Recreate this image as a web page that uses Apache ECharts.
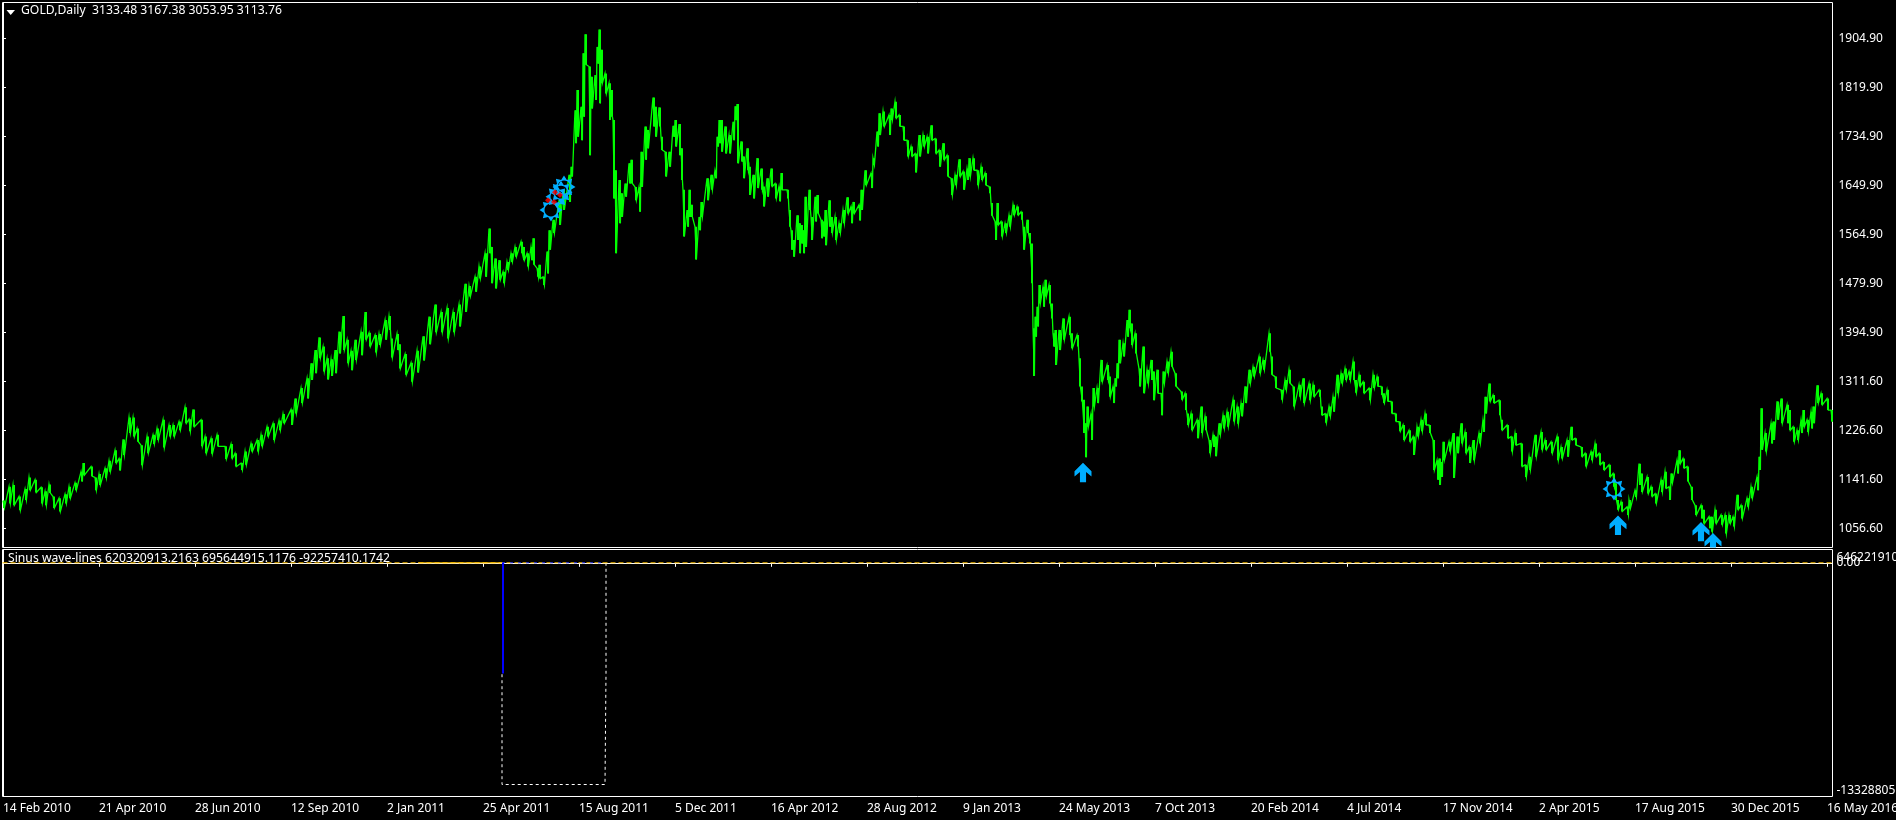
<!DOCTYPE html>
<html>
<head>
<meta charset="utf-8">
<style>html,body{margin:0;padding:0;background:#000;overflow:hidden}#c{width:1896px;height:820px}</style>
<script src="https://cdn.jsdelivr.net/npm/echarts@6/dist/echarts.min.js"></script>
</head>
<body>
<div id="c"></div>
<script>
const dateLabels = ['14 Feb 2010','21 Apr 2010','28 Jun 2010','12 Sep 2010','2 Jan 2011','25 Apr 2011','15 Aug 2011','5 Dec 2011','16 Apr 2012','28 Aug 2012','9 Jan 2013','24 May 2013','7 Oct 2013','20 Feb 2014','4 Jul 2014','17 Nov 2014','2 Apr 2015','17 Aug 2015','30 Dec 2015','16 May 2016'];
const dateTicks = [0,48,96,144,192,240,288,336,384,432,480,528,576,624,672,720,768,816,864,912];
const priceTicks = [1904.9,1819.9,1734.9,1649.9,1564.9,1479.9,1394.9,1309.9,1224.9,1139.9,1054.9];
const priceLabels = ['1904.90','1819.90','1734.90','1649.90','1564.90','1479.90','1394.90','1311.60','1226.60','1141.60','1056.60'];
const subTicks = [-13328805000,646221910];
const subLabels = ['-13328805','646221910'];
const zeroTick = [0];
const zeroLabel = '0.00';

const barIndex = [
0,3,5,8,11,13,16,19,21,23,
25,28,31,33,36,39,40,44,46,48,
51,53,56,58,60,63,65,67,69,72,
75,77,80,83,85,88,91,93,95,99,
101,104,107,111,114,116,119,121,124,127,
129,132,135,138,140,144,146,149,152,154,
156,158,160,162,164,166,168,170,172,174,
176,179,181,183,186,188,191,193,194,197,
198,201,204,207,210,213,216,219,222,225,
228,231,233,236,238,241,243,244,246,248,
250,252,254,256,259,260,262,264,265,267,
268,270,272,273,275,278,280,283,284,286,
287,289,290,291,293,294,296,297,298,299,
301,303,304,305,306,308,309,311,313,314,
316,318,319,321,322,325,326,328,329,331,
333,335,336,338,339,340,342,343,344,346,
348,349,352,354,356,357,358,359,361,363,
365,366,367,369,370,372,373,375,377,379,
380,382,384,386,388,389,392,393,394,395,
397,398,399,400,401,403,404,406,407,409,
410,411,413,414,416,418,420,422,424,425,
428,429,431,434,435,437,438,440,443,444,
446,448,450,452,454,456,458,460,462,464,
466,468,470,472,474,476,478,480,482,483,
485,487,489,491,493,494,496,497,499,501,
503,505,507,509,510,512,513,514,515,516,
517,518,520,521,523,524,525,526,528,530,
533,534,537,538,539,540,541,542,544,545,
547,549,552,553,555,556,557,558,560,562,
563,564,566,568,570,572,574,575,577,579,
580,582,584,586,589,591,592,594,597,599,
601,603,605,606,608,610,612,615,617,619,
621,623,625,628,630,633,634,636,639,641,
643,645,648,650,653,655,658,659,661,663,
665,667,669,671,673,675,676,678,680,683,
685,687,689,690,692,694,696,698,700,703,
705,707,709,711,713,715,717,718,719,720,
723,725,727,729,731,733,735,738,740,741,
743,745,748,749,752,754,756,759,761,763,
766,769,771,774,777,779,782,784,786,789,
791,794,796,798,800,803,805,806,807,809,
812,813,816,818,819,822,824,826,829,831,
833,834,837,838,840,842,844,846,849,850,
853,854,856,859,861,863,865,867,869,872,
874,877,878,879,881,884,885,887,889,892,
893,895,897,899,900,902,904,905,907,909,
912,914];
const highs = [
1103,1127,1130,1110,1123,1143,1139,1126,1119,1131,
1110,1107,1114,1127,1134,1153,1168,1162,1143,1149,
1159,1172,1190,1176,1209,1247,1247,1228,1199,1214,
1217,1228,1243,1234,1234,1240,1265,1244,1261,1243,
1214,1211,1217,1197,1201,1185,1168,1188,1202,1208,
1217,1231,1237,1242,1253,1261,1280,1298,1315,1341,
1364,1386,1370,1350,1348,1364,1396,1423,1382,1363,
1382,1396,1430,1394,1390,1392,1416,1423,1384,1392,
1374,1357,1342,1363,1388,1422,1443,1430,1437,1430,
1443,1479,1475,1491,1509,1532,1575,1543,1523,1520,
1500,1517,1532,1543,1552,1543,1532,1543,1558,1506,
1512,1491,1535,1572,1590,1624,1642,1668,1682,1780,
1815,1786,1879,1912,1856,1838,1841,1890,1920,1885,
1844,1827,1815,1763,1676,1659,1636,1653,1688,1694,
1647,1647,1708,1752,1746,1802,1786,1785,1734,1708,
1708,1753,1763,1756,1714,1642,1607,1642,1616,1578,
1595,1621,1662,1668,1676,1734,1763,1763,1752,1737,
1760,1787,1791,1726,1700,1714,1682,1668,1697,1679,
1648,1662,1679,1653,1648,1671,1642,1607,1572,1555,
1598,1584,1581,1572,1630,1642,1595,1630,1633,1590,
1587,1607,1624,1595,1595,1584,1607,1629,1613,1621,
1616,1642,1676,1671,1697,1743,1775,1778,1772,1783,
1795,1772,1752,1728,1717,1705,1737,1737,1734,1754,
1731,1711,1723,1702,1662,1668,1695,1674,1679,1697,
1697,1676,1682,1671,1648,1619,1587,1619,1587,1584,
1598,1616,1613,1604,1578,1590,1567,1549,1402,1422,
1439,1477,1474,1486,1477,1445,1393,1399,1399,1419,
1422,1393,1390,1350,1301,1278,1237,1266,1254,1298,
1298,1347,1338,1318,1301,1315,1341,1382,1376,1416,
1434,1410,1393,1332,1370,1330,1347,1327,1330,1289,
1327,1344,1361,1324,1292,1289,1254,1254,1243,1266,
1249,1208,1217,1214,1237,1251,1257,1278,1266,1272,
1301,1330,1335,1353,1347,1393,1353,1318,1295,1312,
1330,1301,1304,1315,1306,1304,1295,1266,1254,1266,
1283,1321,1324,1332,1327,1344,1312,1321,1309,1298,
1321,1318,1301,1289,1295,1275,1254,1240,1234,1225,
1214,1231,1243,1254,1234,1208,1173,1176,1170,1205,
1205,1220,1214,1237,1222,1196,1208,1220,1243,1283,
1306,1286,1277,1243,1234,1214,1220,1202,1165,1179,
1217,1222,1208,1205,1214,1196,1208,1231,1211,1196,
1185,1188,1202,1185,1170,1165,1150,1133,1104,1101,
1092,1104,1121,1167,1150,1144,1127,1115,1139,1153,
1127,1150,1173,1190,1176,1162,1127,1095,1095,1087,
1075,1075,1087,1078,1078,1078,1075,1113,1095,1107,
1127,1144,1179,1263,1220,1237,1240,1275,1280,1269,
1260,1231,1225,1243,1260,1243,1257,1266,1303,1289,
1280,1260];
const lows = [
1090,1098,1095,1086,1104,1121,1117,1098,1095,1116,
1090,1084,1098,1107,1121,1136,1147,1145,1121,1130,
1142,1153,1168,1155,1182,1220,1214,1205,1164,1185,
1201,1208,1195,1214,1214,1225,1237,1223,1231,1197,
1185,1184,1197,1175,1176,1162,1156,1165,1188,1188,
1197,1214,1208,1225,1237,1234,1254,1272,1280,1312,
1324,1350,1327,1313,1319,1324,1358,1364,1341,1329,
1347,1355,1382,1370,1360,1373,1382,1399,1351,1364,
1332,1321,1309,1325,1346,1374,1395,1395,1384,1395,
1405,1430,1457,1465,1488,1491,1532,1480,1471,1486,
1480,1503,1517,1526,1532,1520,1509,1520,1512,1491,
1488,1477,1497,1538,1567,1581,1607,1621,1665,1723,
1734,1728,1769,1859,1702,1783,1798,1861,1792,1827,
1809,1763,1769,1627,1532,1584,1595,1630,1653,1653,
1624,1604,1647,1694,1714,1752,1734,1752,1711,1665,
1682,1734,1717,1702,1659,1561,1578,1595,1595,1521,
1572,1595,1624,1642,1662,1717,1723,1708,1705,1705,
1728,1763,1688,1691,1662,1676,1633,1627,1645,1642,
1613,1630,1648,1627,1622,1642,1627,1578,1538,1526,
1555,1532,1549,1532,1543,1607,1555,1587,1601,1558,
1561,1546,1578,1567,1555,1567,1584,1601,1584,1601,
1589,1607,1650,1645,1685,1717,1737,1752,1737,1763,
1766,1752,1728,1700,1700,1672,1700,1717,1705,1728,
1705,1682,1694,1665,1633,1650,1665,1642,1659,1665,
1676,1650,1659,1650,1636,1597,1555,1581,1561,1567,
1578,1598,1598,1590,1538,1567,1549,1480,1319,1387,
1405,1445,1439,1457,1445,1419,1370,1338,1364,1382,
1390,1367,1370,1301,1275,1220,1178,1231,1208,1266,
1272,1309,1312,1283,1272,1301,1315,1341,1353,1387,
1402,1373,1358,1301,1289,1306,1312,1277,1289,1251,
1306,1324,1335,1301,1278,1260,1234,1225,1211,1220,
1225,1185,1196,1180,1217,1228,1231,1240,1236,1249,
1272,1306,1318,1324,1330,1361,1321,1298,1278,1295,
1306,1266,1283,1272,1277,1283,1283,1251,1238,1249,
1257,1289,1306,1312,1312,1312,1290,1301,1289,1277,
1298,1301,1286,1272,1275,1254,1240,1223,1208,1205,
1182,1214,1223,1234,1220,1156,1139,1130,1144,1173,
1188,1142,1185,1202,1185,1168,1173,1202,1222,1254,
1275,1272,1251,1225,1211,1188,1199,1162,1144,1156,
1179,1191,1191,1185,1173,1176,1179,1208,1199,1179,
1162,1173,1179,1165,1156,1144,1127,1104,1087,1084,
1078,1089,1109,1130,1118,1115,1110,1098,1118,1124,
1104,1133,1150,1167,1159,1136,1104,1078,1072,1063,
1055,1049,1063,1061,1046,1063,1058,1087,1072,1092,
1107,1121,1156,1191,1188,1202,1208,1243,1237,1237,
1225,1205,1208,1220,1231,1222,1228,1237,1272,1269,
1260,1240];

const sunBars = [274,277,279,280.5,805.5];
const sunPrices = [1607,1630,1638,1647,1123];
const arrowBars = [540,807.5,849,855];
const arrowPrices = [1151.6,1060,1049,1030];
const redBars = [272.5,275.5,278.5,276];
const redPrices = [1624,1621,1633,1638];

const solidGoldBars = [207.5,250];
const goldBars = [-0.25,914.75];
const blueBar = 250;
const blueLow = -6310000000;
const boxRightBar = 301.5;
const boxLeftBar = 249.5;
const boxLow = -12645000000;

const FONT = '"Noto Sans"';
const WHITE = '#ffffff';
const ICON = '#00aeff';

function sunPath(){
  const R=11, r=7.2, h=6.2, n=8; let d='';
  for(let i=0;i<n*2;i++){
    const a=-Math.PI/2+i*Math.PI/n, q=i%2?r:R;
    d+=(i?'L':'M')+(12+q*Math.cos(a)).toFixed(2)+' '+(12+q*Math.sin(a)).toFixed(2)+' ';
  }
  d+='Z M'+(12)+' '+(12-h)+' ';
  for(let i=1;i<=24;i++){
    const a=-Math.PI/2-i*Math.PI/12;
    d+='L'+(12+h*Math.cos(a)).toFixed(2)+' '+(12+h*Math.sin(a)).toFixed(2)+' ';
  }
  return d+'Z';
}
const arrowPath='M25 0 L50 25 L50 40 L34 27 L34 57 L16 57 L16 27 L0 40 L0 25 Z';

function iconSeries(name,xs,ys,pathData,w,h,color){
  return {name,type:'custom',xAxisIndex:0,yAxisIndex:0,clip:true,z:5,silent:true,
    data:xs.map((x,i)=>[x,ys[i]]),
    renderItem(p,api){
      const c=api.coord([api.value(0),api.value(1)]);
      return {type:'path',shape:{pathData,x:c[0]-w/2,y:c[1]-h/2,width:w,height:h},style:{fill:color}};
    }};
}

const zigzag=[];
barIndex.forEach((b,i)=>{zigzag.push([b,highs[i]]);zigzag.push([b+0.7,lows[i]]);});

const xBase={type:'value',min:-0.25,max:914.75,splitLine:{show:false}};
const chart=echarts.init(document.getElementById('c'),null,{renderer:'canvas'});
chart.setOption({
  animation:false,backgroundColor:'#000',
  textStyle:{fontFamily:FONT},
  title:[
    {text:'GOLD,Daily  3133.48 3167.38 3053.95 3113.76',left:21,top:5,padding:0,textStyle:{color:WHITE,fontFamily:FONT,fontSize:12.2,fontWeight:'normal'}},
    {text:'Sinus wave-lines 620320913.2163 695644915.1176 -92257410.1742',left:8,top:553,padding:0,textStyle:{color:WHITE,fontFamily:FONT,fontSize:12.2,fontWeight:'normal'}}
  ],
  graphic:[{type:'polygon',shape:{points:[[6.5,10],[15,10],[10.7,15]]},style:{fill:WHITE},z:10,silent:true}],
  grid:[
    {left:2.5,top:2.5,width:1830,height:545,show:true,borderColor:WHITE,borderWidth:1,backgroundColor:'#000',outerBoundsMode:'none'},
    {left:2.5,top:549.5,width:1830,height:247,show:true,borderColor:WHITE,borderWidth:1,backgroundColor:'#000',outerBoundsMode:'none'}
  ],
  xAxis:[
    Object.assign({},xBase,{gridIndex:0,axisLine:{show:false},axisTick:{show:false},axisLabel:{show:false}}),
    Object.assign({},xBase,{gridIndex:1,position:'bottom',
      axisLine:{show:true,lineStyle:{color:WHITE}},
      axisTick:{show:true,length:4,lineStyle:{color:WHITE},customValues:dateTicks},
      axisLabel:{show:true,color:WHITE,fontFamily:FONT,fontSize:12,margin:6,align:'left',hideOverlap:false,showMinLabel:true,showMaxLabel:true,
        customValues:dateTicks,formatter:v=>dateLabels[dateTicks.indexOf(v)]}})
  ],
  yAxis:[
    {type:'value',gridIndex:0,position:'right',min:1021.5,max:1967,scale:true,splitLine:{show:false},
      axisLine:{show:true,lineStyle:{color:WHITE}},
      axisTick:{show:true,length:3,lineStyle:{color:WHITE},customValues:priceTicks},
      axisLabel:{color:WHITE,fontFamily:FONT,fontSize:12,margin:6,hideOverlap:false,customValues:priceTicks,formatter:v=>priceLabels[priceTicks.indexOf(v)]}},
    {type:'value',gridIndex:1,position:'right',min:-13328805000,max:758600000,splitLine:{show:false},
      axisLine:{show:true,lineStyle:{color:WHITE}},
      axisTick:{show:false},
      axisLabel:{color:WHITE,fontFamily:FONT,fontSize:12,margin:4,hideOverlap:false,showMinLabel:true,showMaxLabel:true,
        verticalAlignMaxLabel:'top',verticalAlignMinLabel:'bottom',
        customValues:subTicks,formatter:v=>subLabels[subTicks.indexOf(v)]}},
    {type:'value',gridIndex:1,position:'right',min:-13328805000,max:758600000,splitLine:{show:false},
      axisLine:{show:false},axisTick:{show:false},
      axisLabel:{color:WHITE,fontFamily:FONT,fontSize:12,margin:4,hideOverlap:false,showMinLabel:true,showMaxLabel:true,
        customValues:zeroTick,formatter:()=>zeroLabel}}
  ],
  series:[
    {name:'GOLD',type:'line',xAxisIndex:0,yAxisIndex:0,data:zigzag,symbol:'none',sampling:false,silent:true,
      lineStyle:{color:'#00ff00',width:1.3,join:'miter'},z:3},
    {name:'GOLD range',type:'custom',xAxisIndex:0,yAxisIndex:0,clip:true,z:3,silent:true,
      data:barIndex.map((b,i)=>[b,highs[i],lows[i]]),
      renderItem(p,api){
        const t=api.coord([api.value(0),api.value(1)]), b=api.coord([api.value(0),api.value(2)]);
        return {type:'rect',shape:{x:t[0],y:t[1],width:2,height:b[1]-t[1]},style:{fill:'#00ff00'}};
      }},
    {name:'Red marks',type:'scatter',xAxisIndex:0,yAxisIndex:0,symbol:'diamond',symbolSize:6,silent:true,z:6,
      itemStyle:{color:'#ff0000'},data:redBars.map((x,i)=>[x,redPrices[i]])},
    iconSeries('Sun',sunBars,sunPrices,sunPath(),23,23,ICON),
    iconSeries('Arrow',arrowBars,arrowPrices,arrowPath,17,19.5,ICON),
    {name:'Zero',type:'line',xAxisIndex:1,yAxisIndex:1,symbol:'none',silent:true,z:3,
      lineStyle:{color:'#ffc000',width:1,type:[5,3]},data:goldBars.map(x=>[x,0])},
    {name:'Zero solid',type:'line',xAxisIndex:1,yAxisIndex:1,symbol:'none',silent:true,z:3,
      lineStyle:{color:'#ffc000',width:1},data:solidGoldBars.map(x=>[x,0])},
    {name:'Box',type:'line',xAxisIndex:1,yAxisIndex:1,symbol:'none',silent:true,z:2,
      lineStyle:{color:WHITE,width:1,type:[3,3]},
      data:[[boxRightBar,0],[boxRightBar,blueLow],[boxRightBar-0.5,blueLow],[boxRightBar-0.5,boxLow],[boxLeftBar,boxLow],[boxLeftBar,blueLow]]},
    {name:'Top blue',type:'line',xAxisIndex:1,yAxisIndex:1,symbol:'none',silent:true,z:4,
      lineStyle:{color:'#2030ff',width:1,type:[3,5]},data:[[boxLeftBar,0],[boxRightBar,0]]},
    {name:'Blue',type:'line',xAxisIndex:1,yAxisIndex:1,symbol:'none',silent:true,z:4,
      lineStyle:{color:'#0000ff',width:2},data:[[blueBar,0],[blueBar,blueLow]]}
  ]
});
</script>
</body>
</html>
